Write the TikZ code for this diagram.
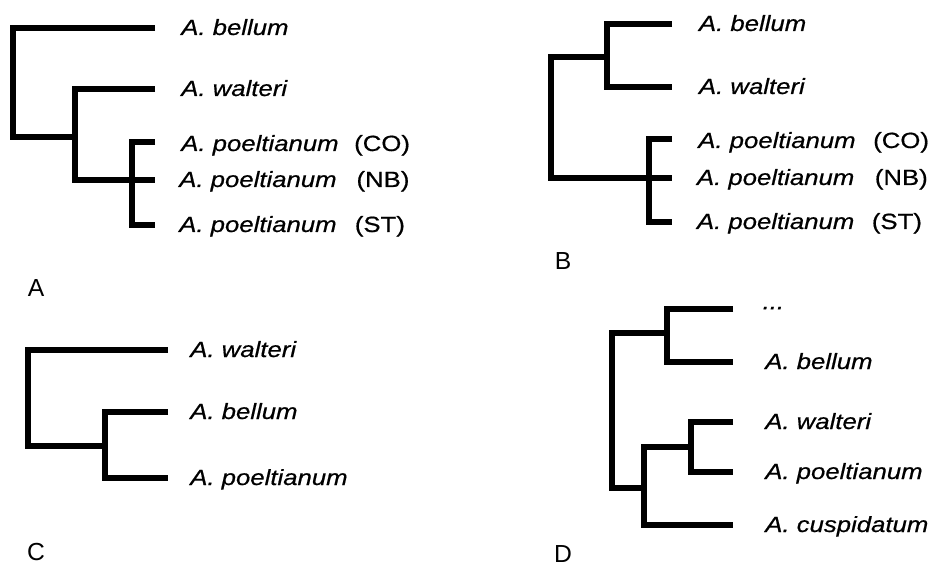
\documentclass[tikz,border=0pt]{standalone}
\usepackage{fontspec}
\setmainfont{Liberation Sans}[FakeStretch=1.17, FakeBold=0.6]
\newfontfamily\panelfont{Liberation Sans}
\usepackage{tikz}
\usetikzlibrary{positioning}
\tikzstyle{branch} = [draw, line width=4.4pt, line join=miter]
\tikzstyle{taxon} = [inner sep=0pt, text height=12.5pt, text depth=2pt, font=\fontsize{16.5pt}{20pt}\selectfont\itshape]
\tikzstyle{site} = [inner sep=0pt, text height=12.5pt, text depth=2pt, font=\fontsize{16.5pt}{20pt}\selectfont]
\tikzstyle{panel} = [inner sep=0pt, font=\panelfont\fontsize{18.5pt}{22pt}\selectfont]

\begin{document}
\begin{tikzpicture}[x=0.75pt, y=-0.75pt, node distance=19.5pt]
\useasboundingbox (0,0) rectangle (937,566);

% tree A
\coordinate (tipA1) at (155,28);
\coordinate (tipA2) at (155,89);
\coordinate (tipA3) at (155,142);
\coordinate (tipA4) at (155,180);
\coordinate (tipA5) at (155,225);
\coordinate (nodeA1) at (13,137);
\coordinate (nodeA2) at (75,137);
\coordinate (nodeA3) at (132,180);
\path [branch] (tipA1) -| (nodeA1) -- (nodeA2);
\path [branch] (tipA2) -| (nodeA2) |- (nodeA3);
\path [branch] (tipA3) -| (nodeA3) |- (tipA5);
\path [branch] (nodeA3) -- (tipA4);

\node (taxA1) [taxon, right=of tipA1] {A. bellum};
\node (taxA2) [taxon, right=of tipA2] {A. walteri};
\node (taxA3) [taxon, right=of tipA3, yshift=-1.5pt] {A. poeltianum};
\node (taxA4) [taxon, right=18pt of tipA4] {A. poeltianum};
\node (taxA5) [taxon, right=18pt of tipA5] {A. poeltianum};
\node (siteA3) [site, right=11.25pt of taxA3] {(CO)};
\node (siteA4) [site, right=14.5pt of taxA4] {(NB)};
\node (siteA5) [site, right=13.25pt of taxA5] {(ST)};
\node (panelA) [panel] at (36,288) {A};

% tree B
\coordinate (tipB1) at (672,24);
\coordinate (tipB2) at (672,87);
\coordinate (tipB3) at (672,139);
\coordinate (tipB4) at (672,178);
\coordinate (tipB5) at (672,222);
\coordinate (nodeB1) at (551,118);
\coordinate (nodeB2) at (607,57);
\coordinate (nodeB3) at (649,178);
\path [branch] (nodeB2) -| (nodeB1) |- (nodeB3);
\path [branch] (tipB1) -| (nodeB2) |- (tipB2);
\path [branch] (tipB3) -| (nodeB3) |- (tipB5);
\path [branch] (nodeB3) -- (tipB4);

\node (taxB1) [taxon, right=20pt of tipB1] {A. bellum};
\node (taxB2) [taxon, right=20pt of tipB2] {A. walteri};
\node (taxB3) [taxon, right=of tipB3, yshift=-1.5pt] {A. poeltianum};
\node (taxB4) [taxon, right=18.5pt of tipB4] {A. poeltianum};
\node (taxB5) [taxon, right=18.5pt of tipB5] {A. poeltianum};
\node (siteB3) [site, right=12.75pt of taxB3] {(CO)};
\node (siteB4) [site, right=15pt of taxB4] {(NB)};
\node (siteB5) [site, right=12.75pt of taxB5] {(ST)};
\node (panelB) [panel] at (563,261) {B};

% tree C
\coordinate (tipC1) at (168,350);
\coordinate (tipC2) at (168,412);
\coordinate (tipC3) at (168,478);
\coordinate (nodeC1) at (28,446);
\coordinate (nodeC2) at (105,446);
\path [branch] (tipC1) -| (nodeC1) -- (nodeC2);
\path [branch] (tipC2) -| (nodeC2) |- (tipC3);

\node (taxC1) [taxon, right=16.5pt of tipC1] {A. walteri};
\node (taxC2) [taxon, right=16.5pt of tipC2] {A. bellum};
\node (taxC3) [taxon, right=16.5pt of tipC3] {A. poeltianum};
\node (panelC) [panel] at (36,552) {C};

% tree D
\coordinate (tipD1) at (733,309);
\coordinate (tipD2) at (733,362);
\coordinate (tipD3) at (733,422);
\coordinate (tipD4) at (733,472);
\coordinate (tipD5) at (733,525);
\coordinate (nodeD1) at (612,410);
\coordinate (nodeD2) at (667,333);
\coordinate (nodeD3) at (644,488);
\coordinate (nodeD4) at (691,447);
\path [branch] (nodeD2) -| (nodeD1) |- (nodeD3);
\path [branch] (tipD1) -| (nodeD2) |- (tipD2);
\path [branch] (nodeD4) -| (nodeD3) |- (tipD5);
\path [branch] (tipD3) -| (nodeD4) |- (tipD4);

\node (taxD1) [taxon, right=22pt of tipD1, yshift=5pt] {...};
\node (taxD2) [taxon, right=24pt of tipD2] {A. bellum};
\node (taxD3) [taxon, right=24pt of tipD3] {A. walteri};
\node (taxD4) [taxon, right=24pt of tipD4] {A. poeltianum};
\node (taxD5) [taxon, right=24pt of tipD5] {A. cuspidatum};
\node (panelD) [panel] at (563,554) {D};

\end{tikzpicture}
\end{document}
